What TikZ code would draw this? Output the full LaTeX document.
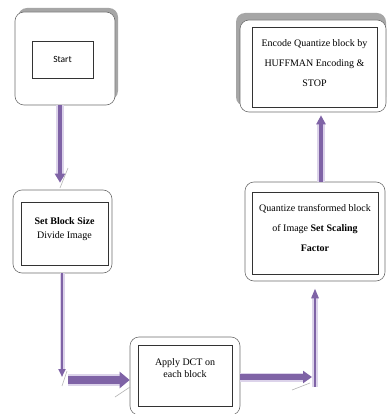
\documentclass[tikz,border=0pt]{standalone}
\usepackage{fontspec}
\setmainfont{Liberation Serif}
\newfontfamily\startfont{Carlito}
\usetikzlibrary{arrows.meta,calc}
\definecolor{arrpurple}{HTML}{7F63A6}
\definecolor{arrglow}{HTML}{DCD3EA}
\definecolor{shadowgray}{HTML}{A6A6A6}
\definecolor{boxline}{HTML}{6E6E6E}
\tikzset{
  outerbox/.style={draw=boxline, line width=0.6pt, rounded corners=9pt, fill=white, inner sep=0pt},
  innerbox/.style={draw=black!80, line width=0.8pt, fill=white, align=center, inner sep=1pt, font=\fontsize{10}{20}\selectfont},
  arrglowline/.style={draw=arrglow, line width=#1},
  slash/.style={draw=gray!60, line width=0.6pt},
}
\newcommand{\up}[2]{\raisebox{#1}[0pt][0pt]{\begin{tabular}{@{}c@{}}#2\end{tabular}}}
\begin{document}
\begin{tikzpicture}[x=1pt,y=-1pt]
\useasboundingbox (0,0) rectangle (386,414);

% shadows
\fill[shadowgray, rounded corners=9pt] (18,8) rectangle (118,100);
\fill[shadowgray, rounded corners=9pt] (236,13) rectangle (386,106);

% outer boxes
\node[outerbox, minimum width=100pt, minimum height=93pt] (b1) at (65,58.5) {};
\node[outerbox, minimum width=99pt, minimum height=83pt] (b2) at (62.5,231.5) {};
\node[outerbox, minimum width=110pt, minimum height=78pt] (b3) at (185,376) {};
\node[outerbox, minimum width=140pt, minimum height=99pt] (b4) at (315,231.5) {};
\node[outerbox, minimum width=146pt, minimum height=92pt] (b5) at (313,66) {};

% inner boxes
\node[innerbox, minimum width=61pt, minimum height=37pt, font=\startfont\fontsize{9.5}{11}\selectfont] (i1) at (62.5,59.5) {Start};
\node[innerbox, minimum width=87pt, minimum height=63pt] (i2) at (64.5,233.5) {\up{3.5pt}{\textbf{Set Block Size}\\[-6pt]Divide Image}};
\node[innerbox, minimum width=94pt, minimum height=61pt] (i3) at (185,375.5) {\up{5.5pt}{Apply DCT on\\[-8pt]each block}};
\node[innerbox, minimum width=126pt, minimum height=82pt] (i4) at (315,233) {\up{3pt}{Quantize transformed block\\of Image \textbf{Set Scaling}\\\textbf{Factor}}};
\node[innerbox, minimum width=125pt, minimum height=80pt] (i5) at (314.5,67) {\up{2pt}{Encode Quantize block by\\HUFFMAN Encoding \&\\STOP}};

% helper coordinates
\coordinate (c1) at (62,377);
\coordinate (c2) at (68,380);
\coordinate (c3) at (312,377);
\coordinate (c4) at (315,387);

% arrow 1: start -> set block size
\draw[arrglowline=8pt] ([xshift=-5pt]b1.south) -- ([xshift=-2.5pt,yshift=14pt]b2.north);
\draw[arrpurple, line width=4.5pt, -{Triangle[length=9pt,width=10pt]}] ([xshift=-5pt]b1.south) -- ([xshift=-2.5pt,yshift=7pt]b2.north);
\draw[slash] (60,188) -- (68,168);

% arrow 2: set block size -> down
\draw[arrglowline=5pt] ([xshift=-0.5pt]b2.south) -- ([yshift=8pt]c1);
\draw[arrpurple, line width=2.5pt, -{Triangle[length=8pt,width=7pt]}] ([xshift=-0.5pt]b2.south) -- (c1);
\draw[slash] (62,386) -- (67,371);

% arrow 3: thick horizontal to DCT
\draw[arrglowline=12pt] (c2) -- ([xshift=-10pt,yshift=-4pt]b3.west);
\draw[arrpurple, line width=8pt, -{Triangle[length=10pt,width=16pt]}] (c2) -- ([yshift=-4pt]b3.west);
\draw[slash] (115,397) -- (130,387);

% arrow 4: DCT -> right
\draw[arrglowline=9pt] (b3.east |- c3) -- ([xshift=-9pt]c3);
\draw[arrpurple, line width=5.5pt, -{Triangle[length=9pt,width=12pt]}] (b3.east |- c3) -- (c3);
\draw[slash] (292,390) -- (310,383);

% arrow 5: up to quantize
\draw[arrglowline=5.5pt] (c4) -- ([yshift=-17pt]b4.south -| c4);
\draw[arrpurple, line width=2.8pt, -{Triangle[length=10pt,width=7pt]}] (c4) -- ([yshift=-7pt]b4.south -| c4);

% arrow 6: quantize -> encode
\draw[arrglowline=8pt] ([xshift=6pt]b4.north) -- ([xshift=6pt,yshift=-12pt]b4.north |- b5.south);
\draw[arrpurple, line width=4.5pt, -{Triangle[length=9pt,width=9pt]}] ([xshift=6pt]b4.north) -- ([xshift=6pt,yshift=-3pt]b4.north |- b5.south);
\end{tikzpicture}
\end{document}
